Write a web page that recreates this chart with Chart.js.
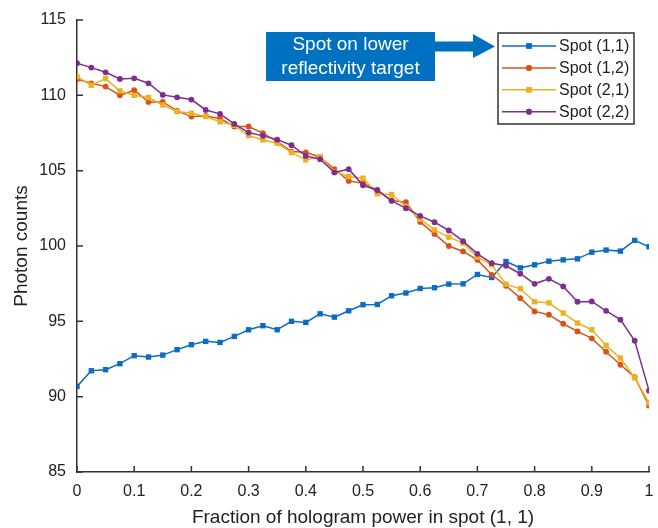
<!DOCTYPE html>
<html>
<head>
<meta charset="utf-8">
<script src="https://cdn.jsdelivr.net/npm/chart.js@4"></script>
<style>
  body { margin: 0; background: #fff; }
  #wrap { width: 658px; height: 528px; }
</style>
</head>
<body>
<div id="wrap"><canvas id="myChart" width="658" height="528"></canvas></div>
<script>
//Data
const fractions = [0, 0.025, 0.05, 0.075, 0.1, 0.125, 0.15, 0.175, 0.2, 0.225,
  0.25, 0.275, 0.3, 0.325, 0.35, 0.375, 0.4, 0.425, 0.45, 0.475,
  0.5, 0.525, 0.55, 0.575, 0.6, 0.625, 0.65, 0.675, 0.7, 0.725,
  0.75, 0.775, 0.8, 0.825, 0.85, 0.875, 0.9, 0.925, 0.95, 0.975, 1];
const spot11 = [90.68, 91.72, 91.79, 92.19, 92.72, 92.63, 92.76, 93.12, 93.45, 93.67,
  93.60, 94.00, 94.44, 94.71, 94.44, 95.00, 94.93, 95.50, 95.28, 95.70,
  96.10, 96.12, 96.70, 96.88, 97.18, 97.23, 97.47, 97.49, 98.11, 97.91,
  98.97, 98.55, 98.75, 98.99, 99.08, 99.15, 99.59, 99.73, 99.66, 100.37, 99.95];
const spot12 = [111.07, 110.80, 110.58, 110.00, 110.34, 109.56, 109.56, 108.97, 108.59, 108.63,
  108.46, 107.93, 107.93, 107.49, 106.93, 106.27, 106.22, 105.89, 105.10, 104.32,
  104.17, 103.73, 103.02, 102.91, 101.60, 100.80, 100.00, 99.64, 99.08, 98.09,
  97.36, 96.54, 95.66, 95.44, 94.84, 94.33, 93.87, 92.98, 92.12, 91.30, 89.40];
const spot21 = [111.24, 110.67, 111.11, 110.29, 110.00, 109.85, 109.36, 108.92, 108.81, 108.60,
  108.24, 108.01, 107.33, 107.04, 106.82, 106.20, 105.72, 105.93, 104.94, 104.61,
  104.50, 103.46, 103.42, 102.62, 101.78, 101.07, 100.59, 100.19, 99.26, 98.75,
  97.47, 97.16, 96.30, 96.23, 95.55, 94.89, 94.44, 93.40, 92.56, 91.25, 89.58];
const spot22 = [112.13, 111.84, 111.53, 111.09, 111.13, 110.80, 110.03, 109.87, 109.72, 109.03,
  108.77, 108.10, 107.53, 107.31, 107.06, 106.69, 105.98, 105.76, 104.88, 105.10,
  104.03, 103.70, 103.00, 102.51, 102.00, 101.58, 101.03, 100.32, 99.48, 98.86,
  98.69, 98.16, 97.49, 97.82, 97.32, 96.30, 96.32, 95.70, 95.11, 93.71, 90.40];
const seriesNames = ["Spot (1,1)", "Spot (1,2)", "Spot (2,1)", "Spot (2,2)"];
const xTicks = [0, 0.1, 0.2, 0.3, 0.4, 0.5, 0.6, 0.7, 0.8, 0.9, 1];
const yTicks = [85, 90, 95, 100, 105, 110, 115];
const noteLines = ["Spot on lower", "reflectivity target"];

const FONT = "'Liberation Sans', Arial, Helvetica, sans-serif";
const INK = "#222";

function pairs(ys) {
  return fractions.map(function (x, i) { return { x: x, y: ys[i] }; });
}

function makeSet(label, ys, color, style, radius, order) {
  return {
    label: label,
    data: pairs(ys),
    borderColor: color,
    backgroundColor: color,
    borderWidth: 1.5,
    pointStyle: style,
    pointRadius: radius,
    pointBorderWidth: 0,
    order: order
  };
}

var data = {
  datasets: [
    makeSet(seriesNames[0], spot11, "#0a6cc4", "rect", 3.8, 4),
    makeSet(seriesNames[1], spot12, "#d95319", "circle", 2.9, 3),
    makeSet(seriesNames[2], spot21, "#edb120", "rect", 3.8, 2),
    makeSet(seriesNames[3], spot22, "#7e2f8e", "circle", 2.9, 1)
  ]
};

//Inward ticks, legend box and the callout
var extras = {
  id: "extras",
  afterDraw: function (chart) {
    var ctx = chart.ctx;
    var area = chart.chartArea;
    var xs = chart.scales.x, ys = chart.scales.y;
    ctx.save();
    ctx.strokeStyle = "#333";
    ctx.lineWidth = 1.5;
    ctx.beginPath();
    xTicks.forEach(function (t) {
      var px = xs.getPixelForValue(t);
      ctx.moveTo(px, area.bottom);
      ctx.lineTo(px, area.bottom - 6);
    });
    yTicks.forEach(function (t) {
      var py = ys.getPixelForValue(t);
      ctx.moveTo(area.left, py);
      ctx.lineTo(area.left + 6, py);
    });
    ctx.stroke();

    // legend
    var lx = 498, ly = 33, lw = 136, lh = 91;
    ctx.fillStyle = "#fff";
    ctx.fillRect(lx, ly, lw, lh);
    ctx.strokeStyle = "#333";
    ctx.lineWidth = 1.5;
    ctx.strokeRect(lx, ly, lw, lh);
    ctx.font = "16px " + FONT;
    ctx.textBaseline = "middle";
    ctx.textAlign = "left";
    chart.data.datasets.forEach(function (ds, i) {
      var rowY = 46 + i * 21.9;
      ctx.strokeStyle = ds.borderColor;
      ctx.lineWidth = 1.5;
      ctx.beginPath();
      ctx.moveTo(502, rowY);
      ctx.lineTo(556, rowY);
      ctx.stroke();
      ctx.fillStyle = ds.borderColor;
      Chart.helpers.drawPoint(ctx, { pointStyle: ds.pointStyle, radius: ds.pointRadius, borderWidth: 0 }, 529, rowY);
      ctx.fill();
      ctx.fillStyle = INK;
      ctx.fillText(ds.label, 559, rowY + 1);
    });

    // callout box and arrow
    ctx.fillStyle = "#0070c0";
    ctx.fillRect(266, 32, 169, 49);
    ctx.beginPath();
    ctx.moveTo(435, 41.5);
    ctx.lineTo(473, 41.5);
    ctx.lineTo(473, 34);
    ctx.lineTo(495, 46.5);
    ctx.lineTo(473, 58);
    ctx.lineTo(473, 51.5);
    ctx.lineTo(435, 51.5);
    ctx.closePath();
    ctx.fill();
    ctx.fillStyle = "#fff";
    ctx.font = "19px " + FONT;
    ctx.textAlign = "center";
    ctx.fillText(noteLines[0], 350.5, 45);
    ctx.fillText(noteLines[1], 350.5, 69);
    ctx.restore();
  }
};

var config = {
  type: "line",
  data: data,
  options: {
    responsive: false,
    devicePixelRatio: 1,
    animation: false,
    layout: { padding: { top: 20, right: 9, left: 0, bottom: 0 } },
    plugins: {
      legend: { display: false },
      tooltip: { enabled: false }
    },
    scales: {
      x: {
        type: "linear",
        min: 0,
        max: 1,
        afterFit: function (scale) {
          scale.height = 56;
          scale.paddingLeft = 0;
          scale.paddingRight = 0;
        },
        afterBuildTicks: function (scale) {
          scale.ticks = xTicks.map(function (v) { return { value: v }; });
        },
        ticks: {
          color: INK,
          font: { family: FONT, size: 16 },
          padding: 10,
          maxRotation: 0,
          callback: function (v) { return String(Math.round(v * 10) / 10); }
        },
        grid: { display: true, drawOnChartArea: false, drawTicks: false },
        border: { display: true, color: "#333", width: 1.5 },
        title: {
          display: true,
          text: "Fraction of hologram power in spot (1, 1)",
          color: INK,
          font: { family: FONT, size: 19, lineHeight: 1.1 },
          padding: { top: 0, bottom: 0 }
        }
      },
      y: {
        min: 85,
        max: 115,
        afterFit: function (scale) {
          scale.width = 77;
          scale.paddingTop = 0;
          scale.paddingBottom = 0;
        },
        afterBuildTicks: function (scale) {
          scale.ticks = yTicks.map(function (v) { return { value: v }; });
        },
        ticks: {
          color: INK,
          font: { family: FONT, size: 16 },
          padding: 11
        },
        grid: { display: true, drawOnChartArea: false, drawTicks: false },
        border: { display: true, color: "#333", width: 1.5 },
        title: {
          display: true,
          text: "Photon counts",
          color: INK,
          font: { family: FONT, size: 19, lineHeight: 1.2 },
          padding: { top: 10, bottom: 0 }
        }
      }
    }
  },
  plugins: [extras]
};

//Initializes Chart
var myChart = new Chart(document.getElementById("myChart"), config);
</script>
</body>
</html>
